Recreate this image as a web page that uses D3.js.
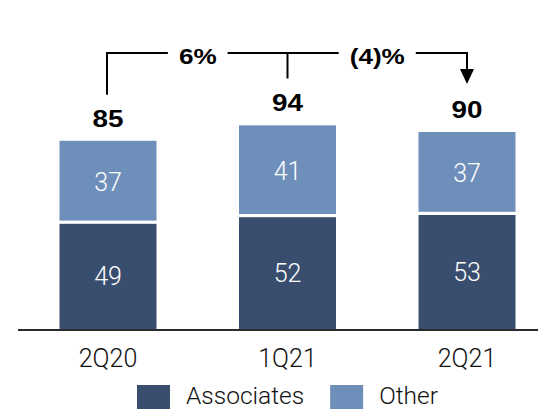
<!DOCTYPE html>
<html>
<head>
<meta charset="utf-8">
<script src="https://cdn.jsdelivr.net/npm/d3@7"></script>
<style>
  html, body { margin: 0; padding: 0; background: #fff; }
  svg { display: block; }
</style>
</head>
<body>
<svg id="chart" width="538" height="411"></svg>
<script>
// Quarterly split, stacked bottom-up
const categories = ["2Q20", "1Q21", "2Q21"];
const associates = [49, 52, 53];
const other = [37, 41, 37];
const totals = [85, 94, 90];
const changes = ["6%", "(4)%"];
const seriesNames = ["Associates", "Other"];

const colors = { Associates: "#394e6e", Other: "#6e8fba" };
const lightFont = "Roboto, 'Noto Sans', sans-serif";
const boldFont = "'Liberation Sans', Arial, sans-serif";
const boldStretch = 1.16;   // wide bold face for totals and growth labels

const svg = d3.select("#chart");
const W = 538;

const x = d3.scalePoint().domain(categories).range([108, 467]);
const y = d3.scaleLinear().domain([0, 100]).range([330, 110]);
const barW = 97;
const gap = 1.6;

const rows = categories.map((c, i) => ({
  cat: c, Associates: associates[i], Other: other[i], total: totals[i]
}));
const stack = d3.stack().keys(seriesNames)(rows);

// bars
stack.forEach(layer => {
  const key = layer.key;
  const g = svg.append("g");
  const topOf = d => y(d[1]) + (d[1] === d.data.Associates + d.data.Other ? 0 : gap);
  const bottomOf = d => y(d[0]) - (d[0] === 0 ? 0 : gap);
  g.selectAll("rect").data(layer).join("rect")
    .attr("x", d => x(d.data.cat) - barW / 2)
    .attr("width", barW)
    .attr("y", topOf)
    .attr("height", d => bottomOf(d) - topOf(d))
    .attr("fill", colors[key]);

  g.selectAll("text").data(layer).join("text")
    .attr("x", d => x(d.data.cat))
    .attr("y", d => (y(d[0]) + y(d[1])) / 2 + 9)
    .attr("text-anchor", "middle")
    .attr("font-family", lightFont)
    .attr("font-weight", 300)
    .attr("font-size", 25)
    .attr("fill", "#fff")
    .text(d => d.data[key]);
});

// baseline
svg.append("line")
  .attr("x1", 18).attr("x2", W)
  .attr("y1", y(0)).attr("y2", y(0))
  .attr("stroke", "#2b2b2b").attr("stroke-width", 2);

// category labels
svg.append("g").selectAll("text").data(categories).join("text")
  .attr("x", d => x(d))
  .attr("y", 367)
  .attr("text-anchor", "middle")
  .attr("font-family", lightFont)
  .attr("font-weight", 300)
  .attr("font-size", 25)
  .attr("fill", "#111")
  .text(d => d);

// bold text, widened horizontally about its anchor
function boldText(parent, cx, by, size, str) {
  const t = parent.append("text")
    .attr("transform", `translate(${cx},${by}) scale(${boldStretch},1)`)
    .attr("text-anchor", "middle")
    .attr("font-family", boldFont)
    .attr("font-weight", 700)
    .attr("font-size", size)
    .attr("fill", "#000")
    .text(str);
  return t.node().getComputedTextLength() * boldStretch;
}

// totals above bars
const totalBase = rows.map(r => y(r.Associates + r.Other) - 14);
rows.forEach((r, i) => boldText(svg, x(r.cat), totalBase[i], 24, r.total));

// growth bracket
const lineY = 53;
const ends = totalBase.map((b, i) => b - 17 - (i === 0 ? 15 : i === 1 ? 16 : 17));
const pctTexts = changes.map((t, i) => {
  const cx = (x(categories[i]) + x(categories[i + 1])) / 2;
  const w = boldText(svg, cx, lineY + 10.5, 22.5, t);
  return { l: cx - w / 2 - 11, r: cx + w / 2 + 11 };
});

const x0 = x(categories[0]) - 1, x1 = x(categories[1]), x2 = x(categories[2]);
const arrowTip = ends[2];
const headH = 15, headW = 14;
svg.append("path")
  .attr("d",
    `M${x0},${ends[0]} V${lineY} H${pctTexts[0].l}` +
    ` M${pctTexts[0].r},${lineY} H${pctTexts[1].l}` +
    ` M${x1},${lineY} V${ends[1]}` +
    ` M${pctTexts[1].r},${lineY} H${x2} V${arrowTip - headH + 1}`)
  .attr("stroke", "#000").attr("stroke-width", 2).attr("fill", "none");
svg.append("path")
  .attr("d", `M${x2 - headW / 2},${arrowTip - headH} L${x2 + headW / 2},${arrowTip - headH} L${x2},${arrowTip} Z`)
  .attr("fill", "#000");

// legend, centred under the middle bar
const legend = svg.append("g");
const sq = { w: 33, h: 24 };
let cursor = 0;
seriesNames.forEach(name => {
  const g = legend.append("g");
  g.append("rect").attr("width", sq.w).attr("height", sq.h).attr("y", 385)
    .attr("fill", colors[name]);
  const t = g.append("text")
    .attr("x", sq.w + 16).attr("y", 404)
    .attr("font-family", lightFont)
    .attr("font-weight", 300)
    .attr("font-size", 24.5)
    .attr("fill", "#111")
    .text(name);
  const w = sq.w + 16 + t.node().getComputedTextLength();
  g.attr("transform", `translate(${cursor},0)`);
  cursor += w + 26;
});
const legendW = cursor - 26;
legend.attr("transform", `translate(${x(categories[1]) - legendW / 2},0)`);
</script>
</body>
</html>
